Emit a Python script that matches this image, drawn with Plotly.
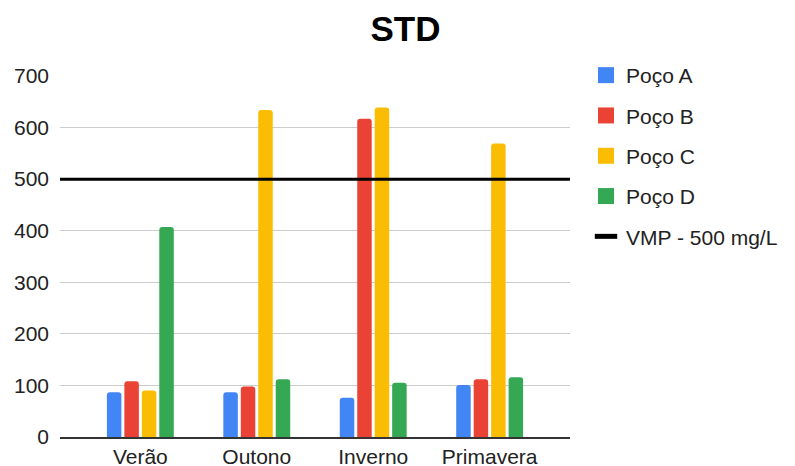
import plotly.graph_objects as go

# Sazonal total dissolved solids per well
seasons = ["Verão", "Outono", "Inverno", "Primavera"]
poco_a = [87, 87, 76, 101]
poco_b = [108, 98, 617, 112]
poco_c = [90, 634, 639, 569]
poco_d = [407, 112, 105, 116]
vmp_value = 500
vmp_label = "VMP - 500 mg/L"
y_ticks = [0, 100, 200, 300, 400, 500, 600, 700]

series = [
    ("Poço A", poco_a, "#4285F4"),
    ("Poço B", poco_b, "#EA4335"),
    ("Poço C", poco_c, "#FBBC04"),
    ("Poço D", poco_d, "#34A853"),
]

FONT = "Liberation Sans, Arial, sans-serif"
TEXT = "#222222"

fig = go.Figure()

for i, (name, vals, color) in enumerate(series):
    fig.add_trace(go.Bar(
        x=seasons, y=vals, name=name, marker_color=color,
        marker_line_width=0, showlegend=False,
    ))
    # legend proxy with larger square swatch
    fig.add_trace(go.Scatter(
        x=[None], y=[None], mode="markers", name=name,
        marker=dict(symbol="square", size=16, color=color),
        legendgroup=f"g{i}", showlegend=True,
    ))

# reference limit line
fig.add_hline(y=vmp_value, line=dict(color="black", width=3), layer="above")
fig.add_trace(go.Scatter(
    x=[None], y=[None], mode="markers", name=vmp_label,
    marker=dict(symbol="line-ew", size=16, color="black",
                line=dict(color="black", width=5)),
    legendgroup="g4", showlegend=True,
))

fig.update_layout(
    width=795, height=466,
    margin=dict(l=60, r=225, t=76, b=29, autoexpand=False),
    paper_bgcolor="white", plot_bgcolor="white",
    barmode="group", bargap=0.4, bargroupgap=0.17, barcornerradius=3,
    font=dict(family=FONT, size=21, color=TEXT),
    title=dict(text="<b>STD</b>", x=0.51, xref="container", xanchor="center",
               y=1 - 29 / 466, yref="container", yanchor="middle",
               font=dict(family=FONT, size=35, color="black")),
    legend=dict(x=586 / 795, xref="container", xanchor="left",
                y=1 - 55 / 466, yref="container", yanchor="top",
                traceorder="grouped", tracegroupgap=10,
                font=dict(family=FONT, size=21, color=TEXT),
                itemwidth=30, bgcolor="rgba(0,0,0,0)"),
    showlegend=True,
)

fig.update_xaxes(
    type="category", categoryorder="array", categoryarray=seasons,
    range=[-0.69, 3.69], showgrid=False, zeroline=False,
    showline=True, linecolor="#333333", linewidth=2, automargin=False,
    ticks="", tickfont=dict(size=21, color=TEXT), fixedrange=True,
)
fig.update_yaxes(
    range=[0, 700], tickvals=y_ticks, showgrid=True, gridcolor="#cccccc",
    gridwidth=1, zeroline=False, showline=False, ticks="", automargin=False,
    ticklabelstandoff=10, tickfont=dict(size=21, color=TEXT), fixedrange=True,
)

fig.write_html("out.html")
